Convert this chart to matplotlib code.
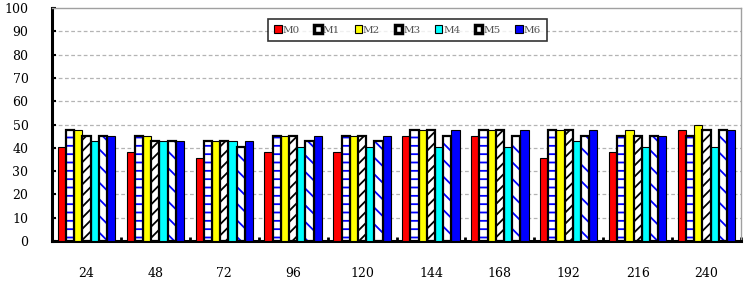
import matplotlib
matplotlib.use("Agg")
import matplotlib.pyplot as plt
import numpy as np
from matplotlib.patches import Rectangle

categories = ["24", "48", "72", "96", "120", "144", "168", "192", "216", "240"]
series_names = ["M0", "M1", "M2", "M3", "M4", "M5", "M6"]
M0 = [40.5, 38.1, 35.7, 38.1, 38.1, 45.2, 45.2, 35.7, 38.1, 47.6]
M1 = [47.6, 45.2, 42.9, 45.2, 45.2, 47.6, 47.6, 47.6, 45.2, 45.2]
M2 = [47.6, 45.2, 42.9, 45.2, 45.2, 47.6, 47.6, 47.6, 47.6, 50.0]
M3 = [45.2, 42.9, 42.9, 45.2, 45.2, 47.6, 47.6, 47.6, 45.2, 47.6]
M4 = [42.9, 42.9, 42.9, 40.5, 40.5, 40.5, 40.5, 42.9, 40.5, 40.5]
M5 = [45.2, 42.9, 40.5, 42.9, 42.9, 45.2, 45.2, 45.2, 45.2, 47.6]
M6 = [45.2, 42.9, 42.9, 45.2, 45.2, 47.6, 47.6, 47.6, 45.2, 47.6]
y_ticks = [0, 10, 20, 30, 40, 50, 60, 70, 80, 90, 100]

series = [M0, M1, M2, M3, M4, M5, M6]
# style: (face, hatch, hatch_color, edge_lw)
styles = [
    ("#ff0000", None, None, 0.8),
    ("white", "--", "#0000ff", 1.6),
    ("#ffff00", None, None, 0.8),
    ("white", "///", "black", 1.6),
    ("#00ffff", None, None, 0.8),
    ("white", "\\\\", "#0000ff", 1.6),
    ("#0000ff", None, None, 0.8),
]

plt.rcParams['font.family'] = ['DejaVu Serif']
plt.rcParams['hatch.linewidth'] = 1.3

fig = plt.figure(figsize=(7.48, 2.81), dpi=100)
ax = fig.add_axes([52/748, 1-241/281, (741-52)/748, (241-8)/281])

x = np.arange(len(categories))
n = len(series)
bw = 0.119
offsets = (np.arange(n) - (n-1)/2) * bw

for i, (vals, (fc, hatch, hc, lw)) in enumerate(zip(series, styles)):
    pos = x + offsets[i]
    if hatch:
        ax.bar(pos, vals, width=bw, color=fc, hatch=hatch, edgecolor=hc, linewidth=0, zorder=3)
        ax.bar(pos, vals, width=bw, facecolor="none", edgecolor="black", linewidth=lw, zorder=4)
    else:
        ax.bar(pos, vals, width=bw, color=fc, edgecolor="black", linewidth=lw, zorder=3)

ax.set_xlim(-0.5, len(categories)-0.5)
ax.set_ylim(0, 100)
ax.set_yticks(y_ticks)
ax.set_yticklabels([str(t) for t in y_ticks], fontsize=9)
ax.tick_params(axis='y', direction='in', length=3, width=1.5, pad=17)
for t in y_ticks[1:-1]:
    ax.axhline(t, color="#b4b4b4", lw=0.9, ls=(0, (3, 2)), zorder=1)

ax.set_xticks(np.arange(len(categories)+1) - 0.5)
ax.set_xticklabels([])
ax.tick_params(axis='x', which='major', direction='in', length=3, width=2)
ax.set_xticks(x, minor=True)
ax.set_xticklabels(categories, minor=True, fontsize=9)
ax.tick_params(axis='x', which='minor', length=0, pad=19)

for s in ["left", "bottom"]:
    ax.spines[s].set_linewidth(2.2)
    ax.spines[s].set_color("black")
for s in ["top", "right"]:
    ax.spines[s].set_linewidth(1.0)
    ax.spines[s].set_color("#a0a0a0")

# legend
handles = []
for (fc, hatch, hc, lw) in styles:
    if hatch:
        handles.append(Rectangle((0, 0), 1, 1, facecolor=fc, edgecolor="black", linewidth=2.5))
    else:
        handles.append(Rectangle((0, 0), 1, 1, facecolor=fc, edgecolor="black", linewidth=0.8))
leg = fig.legend(handles, series_names, loc="upper left",
                 bbox_to_anchor=(268/748, 1-19/281), ncol=7, fontsize=7.5,
                 handlelength=0.7, handleheight=0.7, handletextpad=0.1,
                 columnspacing=1.4, frameon=True, fancybox=False,
                 borderpad=0.6, borderaxespad=0)
leg.get_frame().set_edgecolor("black")
leg.get_frame().set_linewidth(1.2)
for t in leg.get_texts():
    t.set_color("#555555")

fig.savefig("out.png", dpi=100)
